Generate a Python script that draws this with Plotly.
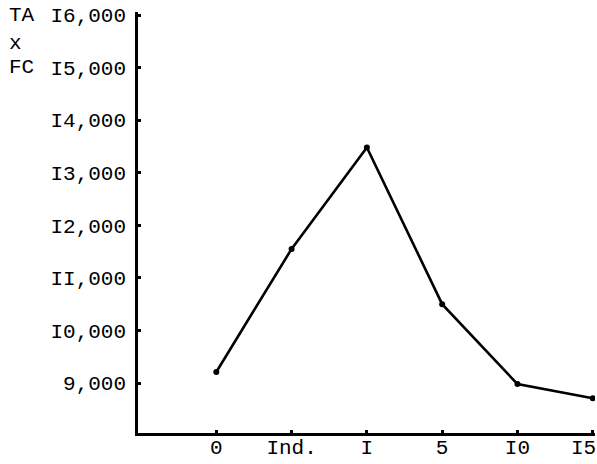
import plotly.graph_objects as go

categories = ["0", "Ind.", "I", "5", "I0", "I5"]
values = [9210, 11550, 13480, 10500, 8980, 8710]
y_tick_vals = [9000, 10000, 11000, 12000, 13000, 14000, 15000, 16000]
y_tick_text = ["9,000", "I0,000", "II,000", "I2,000", "I3,000", "I4,000", "I5,000", "I6,000"]

FONT = "Liberation Mono, Courier New, monospace"
FS = 21

x_idx = list(range(len(categories)))
# last label sits at the page edge, so it is placed as a right-anchored annotation
x_ticktext = categories[:-1] + [""]

fig = go.Figure()
fig.add_trace(go.Scatter(
    x=x_idx, y=values, mode="lines+markers",
    line=dict(color="black", width=2.6),
    marker=dict(color="black", size=6),
    showlegend=False, hoverinfo="skip",
))

fig.update_layout(
    width=597, height=464,
    margin=dict(l=138, r=2, t=12, b=31),
    paper_bgcolor="white", plot_bgcolor="white",
    font=dict(family=FONT, size=FS, color="black"),
    xaxis=dict(
        range=[-1.04, 5.03], tickmode="array",
        tickvals=x_idx, ticktext=x_ticktext,
        showgrid=False, zeroline=False, showline=True, linecolor="black", linewidth=2.5,
        ticks="inside", ticklen=3, tickwidth=3, tickcolor="black",
        ticklabelstandoff=-7, ticklabeloverflow="allow", automargin=False,
        tickfont=dict(family=FONT, size=FS, color="black"),
    ),
    yaxis=dict(
        range=[8049, 16057], tickmode="array",
        tickvals=y_tick_vals, ticktext=y_tick_text,
        showgrid=False, zeroline=False, showline=True, linecolor="black", linewidth=2.5,
        ticks="inside", ticklen=3, tickwidth=3, tickcolor="black",
        ticklabelstandoff=5, automargin=False,
        tickfont=dict(family=FONT, size=FS, color="black"),
    ),
)

fig.add_annotation(
    text=categories[-1], xref="x", yref="paper", x=x_idx[-1], y=0,
    xanchor="right", yanchor="middle", xshift=5, yshift=-15, showarrow=False,
    font=dict(family=FONT, size=FS, color="black"),
)

for txt, yv in [("TA", 16000), ("x", 15467), ("FC", 15000)]:
    fig.add_annotation(
        text=txt, xref="paper", yref="y", x=0, y=yv,
        xanchor="left", yanchor="middle", xshift=-131, showarrow=False,
        font=dict(family=FONT, size=FS, color="black"),
    )

fig.write_html(
    "out.html",
    config={"displayModeBar": False},
    post_script="document.body.style.margin='0';document.body.style.padding='0';document.body.style.overflow='hidden';",
)
